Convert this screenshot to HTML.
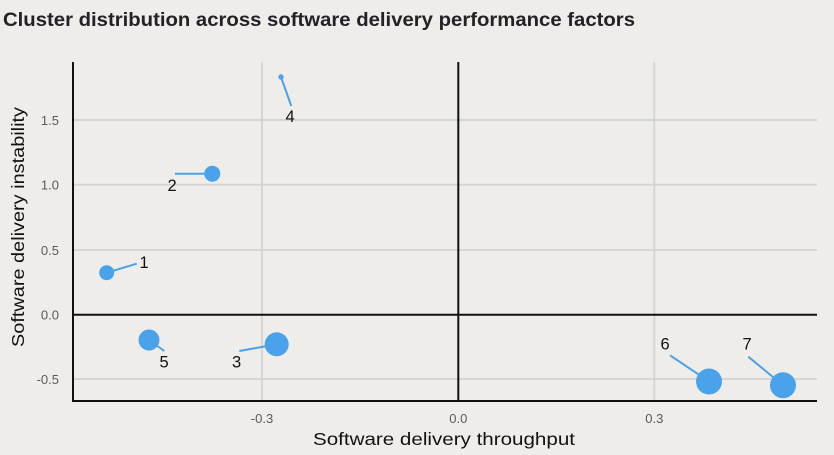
<!DOCTYPE html>
<html><head><meta charset="utf-8"><style>
html,body{margin:0;padding:0;background:#eeede9;}
svg{display:block;}
</style></head><body>
<svg width="834" height="455" viewBox="0 0 834 455" xmlns="http://www.w3.org/2000/svg" font-family="Liberation Sans, sans-serif">
<rect width="834" height="455" fill="#eeede9"/>
<text x="3" y="26" font-size="19" font-weight="bold" fill="#222228" textLength="632" lengthAdjust="spacingAndGlyphs">Cluster distribution across software delivery performance factors</text>
<!-- gridlines -->
<g stroke="#d5d5d3" stroke-width="2">
<line x1="73" y1="120" x2="817" y2="120"/>
<line x1="73" y1="184.7" x2="817" y2="184.7"/>
<line x1="73" y1="250" x2="817" y2="250"/>
<line x1="73" y1="379" x2="817" y2="379"/>
<line x1="262" y1="62" x2="262" y2="401"/>
<line x1="654.3" y1="62" x2="654.3" y2="401"/>
</g>
<!-- zero lines -->
<g stroke="#111" stroke-width="2">
<line x1="73" y1="314.7" x2="817" y2="314.7"/>
<line x1="458.3" y1="62" x2="458.3" y2="401"/>
<line x1="73" y1="62" x2="73" y2="402"/>
<line x1="72" y1="401" x2="817" y2="401"/>
</g>
<!-- y tick labels -->
<g font-size="13" fill="#5a5a5a" text-anchor="end">
<text x="59" y="125">1.5</text>
<text x="59" y="189.5">1.0</text>
<text x="59" y="255">0.5</text>
<text x="59" y="319.5">0.0</text>
<text x="59" y="384">-0.5</text>
</g>
<g font-size="13" fill="#5a5a5a" text-anchor="middle">
<text x="262" y="423">-0.3</text>
<text x="458.3" y="423">0.0</text>
<text x="654.3" y="423">0.3</text>
</g>
<text x="444" y="445" font-size="17.5" fill="#111" text-anchor="middle" textLength="262" lengthAdjust="spacingAndGlyphs">Software delivery throughput</text>
<text transform="translate(24,227) rotate(-90)" font-size="17.5" fill="#111" text-anchor="middle" textLength="240" lengthAdjust="spacingAndGlyphs">Software delivery instability</text>
<!-- leader lines -->
<g stroke="#4aa2ea" stroke-width="2">
<line x1="106.7" y1="272.7" x2="136.7" y2="263.7"/>
<line x1="175" y1="173.7" x2="212.3" y2="173.7"/>
<line x1="281" y1="77" x2="291.3" y2="106"/>
<line x1="149" y1="340" x2="164.3" y2="351"/>
<line x1="239.3" y1="351" x2="276.7" y2="344.3"/>
<line x1="670" y1="355.3" x2="709" y2="381.5"/>
<line x1="748.3" y1="356.7" x2="783" y2="385.3"/>
</g>
<g fill="#4aa2ea">
<circle cx="106.7" cy="272.7" r="7.5"/>
<circle cx="212.3" cy="173.7" r="8"/>
<circle cx="281" cy="77" r="2.7"/>
<circle cx="149" cy="340" r="10.5"/>
<circle cx="276.7" cy="344.3" r="12"/>
<circle cx="709" cy="381.5" r="13"/>
<circle cx="783" cy="385.3" r="13"/>
</g>
<g font-size="16.5" fill="#111">
<text x="139.5" y="268">1</text>
<text x="167.5" y="191">2</text>
<text x="285.5" y="122">4</text>
<text x="159.5" y="367.5">5</text>
<text x="232" y="367.5">3</text>
<text x="660.5" y="349.5">6</text>
<text x="742.5" y="349.5">7</text>
</g>
</svg>
</body></html>
